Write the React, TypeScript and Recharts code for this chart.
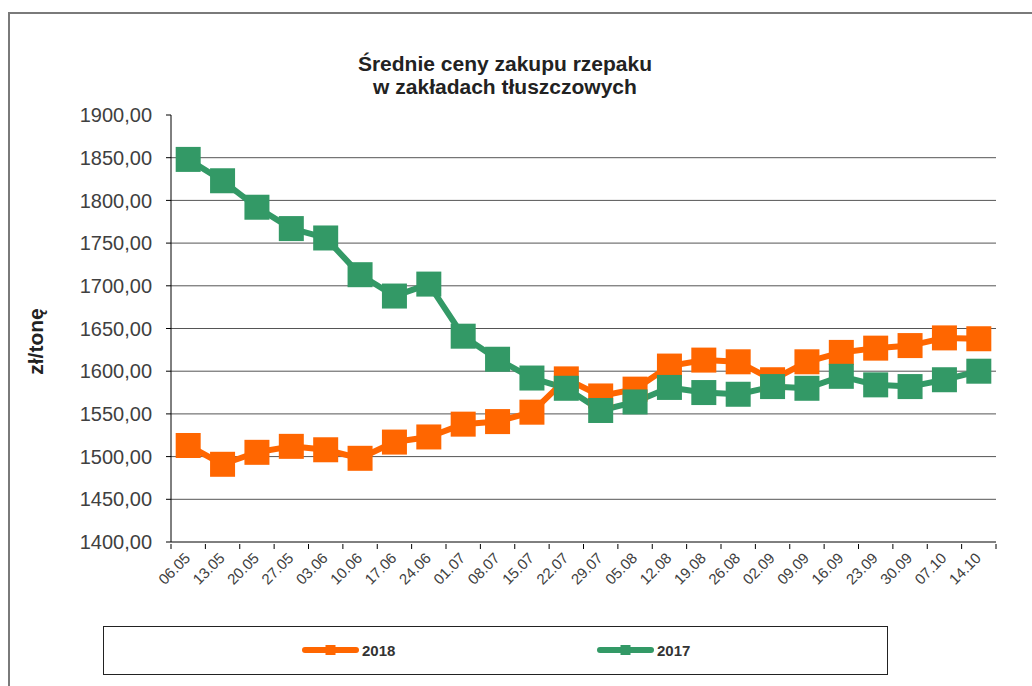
import { LineChart, Line, XAxis, YAxis, CartesianGrid } from 'recharts';

const dates = [
  '06.05', '13.05', '20.05', '27.05', '03.06', '10.06', '17.06', '24.06',
  '01.07', '08.07', '15.07', '22.07', '29.07', '05.08', '12.08', '19.08',
  '26.08', '02.09', '09.09', '16.09', '23.09', '30.09', '07.10', '14.10',
];

const prices2018 = [
  1513, 1491, 1505, 1512, 1508, 1498, 1517, 1523, 1538, 1541, 1552, 1591,
  1571, 1579, 1606, 1613, 1611, 1590, 1611, 1622, 1627, 1630, 1639, 1638,
];

const prices2017 = [
  1848, 1823, 1792, 1767, 1756, 1713, 1688, 1702, 1641, 1614, 1592, 1580,
  1554, 1564, 1581, 1575, 1573, 1582, 1580, 1594, 1584, 1582, 1590, 1600,
];

const yTicks = [1400, 1450, 1500, 1550, 1600, 1650, 1700, 1750, 1800, 1850, 1900];
const gridValues = [1450, 1500, 1550, 1600, 1650, 1700, 1750, 1800, 1850];

const ORANGE = '#ff6600';
const GREEN = '#339966';
const FONT = '"Liberation Sans", Arial, sans-serif';

const CHART_W = 1032;
const MARGIN_RIGHT = 36;
const YAXIS_W = 171;
const PLOT_W = CHART_W - MARGIN_RIGHT - YAXIS_W;
const BAND = PLOT_W / dates.length;

const data = dates.map((d, i) => ({
  date: d,
  y2018: prices2018[i],
  y2017: prices2017[i],
}));

const fmt = (v: number) => v.toFixed(2).replace('.', ',');

function XTick(props: any) {
  const { x, y, payload, index } = props;
  const tx = x + 3;
  const ty = y + 15;
  return (
    <g>
      <line x1={x - BAND / 2} y1={y} x2={x - BAND / 2} y2={y + 5} stroke="#000" />
      {index === dates.length - 1 && (
        <line x1={x + BAND / 2} y1={y} x2={x + BAND / 2} y2={y + 5} stroke="#000" />
      )}
      <text
        x={tx}
        y={ty}
        textAnchor="end"
        transform={`rotate(-45, ${tx}, ${ty})`}
        fontSize={15}
        fill="#404040"
        fontFamily={FONT}
      >
        {payload.value}
      </text>
    </g>
  );
}

function squareDot(color: string) {
  return (p: any) => (
    <rect
      key={`dot-${color}-${p.index}`}
      x={p.cx - 12.5}
      y={p.cy - 12.5}
      width={25}
      height={25}
      fill={color}
    />
  );
}

function LegendItem(props: { color: string; label: string; left: number }) {
  return (
    <div
      style={{
        position: 'absolute',
        left: props.left,
        top: 13,
        display: 'flex',
        alignItems: 'center',
        height: 20,
      }}
    >
      <svg width={57} height={14}>
        <line x1={3} y1={7} x2={54} y2={7} stroke={props.color} strokeWidth={6} strokeLinecap="round" />
        <rect x={23.5} y={2} width={10} height={10} fill={props.color} />
      </svg>
      <span style={{ marginLeft: 3, fontWeight: 'bold', fontSize: 15, color: '#333' }}>
        {props.label}
      </span>
    </div>
  );
}

export default function App() {
  return (
    <div
      style={{
        position: 'fixed',
        left: 0,
        top: 0,
        width: 1032,
        height: 686,
        overflow: 'hidden',
        background: '#fff',
        fontFamily: FONT,
      }}
    >
      <div
        style={{
          position: 'absolute',
          left: 8,
          top: 12,
          width: 1100,
          height: 800,
          border: '2px solid #7a7a7a',
        }}
      />
      <div
        style={{
          position: 'absolute',
          left: 0,
          top: 52,
          width: 1010,
          textAlign: 'center',
          fontWeight: 'bold',
          fontSize: 21,
          lineHeight: '23px',
          color: '#222',
        }}
      >
        Średnie ceny zakupu rzepaku
        <br />
        w zakładach tłuszczowych
      </div>
      <div style={{ position: 'absolute', left: 0, top: 0 }}>
        <LineChart
          width={CHART_W}
          height={602}
          data={data}
          margin={{ top: 115, right: MARGIN_RIGHT, bottom: 0, left: 0 }}
        >
          <CartesianGrid
            vertical={false}
            horizontalValues={gridValues}
            stroke="#555"
          />
          <XAxis
            dataKey="date"
            height={60}
            interval={0}
            padding={{ left: BAND / 2, right: BAND / 2 }}
            tickSize={0}
            tickLine={false}
            axisLine={{ stroke: '#000' }}
            tick={<XTick />}
          />
          <YAxis
            width={YAXIS_W}
            domain={[1400, 1900]}
            ticks={yTicks}
            interval={0}
            tickFormatter={fmt}
            tickSize={5}
            tickMargin={14}
            tickLine={{ stroke: '#000' }}
            axisLine={{ stroke: '#000' }}
            tick={{ fontSize: 20, fill: '#404040', fontFamily: FONT }}
            label={{
              value: 'zł/tonę',
              angle: -90,
              position: 'center',
              dx: -50,
              dy: 13,
              style: { fontSize: 21, fontWeight: 'bold', fill: '#222', fontFamily: FONT },
            }}
          />
          <Line
            type="linear"
            dataKey="y2018"
            name="2018"
            stroke={ORANGE}
            strokeWidth={6}
            strokeLinejoin="round"
            dot={squareDot(ORANGE)}
            activeDot={false}
            isAnimationActive={false}
          />
          <Line
            type="linear"
            dataKey="y2017"
            name="2017"
            stroke={GREEN}
            strokeWidth={6}
            strokeLinejoin="round"
            dot={squareDot(GREEN)}
            activeDot={false}
            isAnimationActive={false}
          />
        </LineChart>
      </div>
      <div
        style={{
          position: 'absolute',
          left: 103,
          top: 626,
          width: 785,
          height: 49,
          boxSizing: 'border-box',
          border: '1px solid #222',
        }}
      >
        <LegendItem color={ORANGE} label="2018" left={198} />
        <LegendItem color={GREEN} label="2017" left={493} />
      </div>
    </div>
  );
}
